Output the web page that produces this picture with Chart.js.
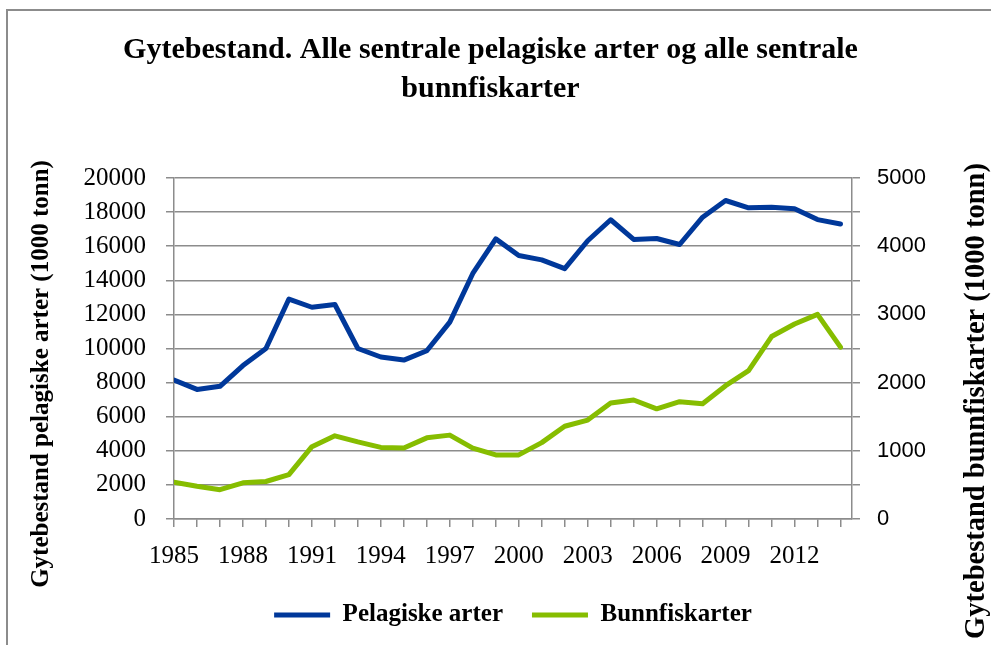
<!DOCTYPE html>
<html>
<head>
<meta charset="utf-8">
<script src="https://cdn.jsdelivr.net/npm/chart.js@4.4.1/dist/chart.umd.min.js"></script>
<style>
  html, body { margin: 0; padding: 0; background: #fff; overflow: hidden; }
  #wrap { position: absolute; left: 0; top: 0; width: 991px; height: 645px; overflow: hidden; }
  #frame { position: absolute; left: 6px; top: 9px; width: 1100px; height: 800px;
           border-left: 2px solid #8c8c8c; border-top: 2px solid #8c8c8c; }
  canvas { position: absolute; left: 0; top: 0; }
</style>
</head>
<body>
<div id="wrap">
  <div id="frame"></div>
  <canvas id="chart" width="991" height="645"></canvas>
</div>
<script>
// data (1000 tonn)
const years = [1985, 1986, 1987, 1988, 1989, 1990, 1991, 1992, 1993, 1994,
               1995, 1996, 1997, 1998, 1999, 2000, 2001, 2002, 2003, 2004,
               2005, 2006, 2007, 2008, 2009, 2010, 2011, 2012, 2013, 2014]
const pelagiske = [8150, 7600, 7780, 9000, 10000, 12900, 12420, 12580, 10000, 9500,
                   9320, 9870, 11550, 14400, 16430, 15450, 15200, 14680, 16320, 17550,
                   16400, 16450, 16100, 17700, 18680, 18250, 18280, 18200, 17560, 17300]
const bunnfisk = [540, 480, 430, 530, 550, 650, 1060, 1220, 1130, 1050,
                  1040, 1190, 1230, 1040, 940, 940, 1120, 1360, 1450, 1700,
                  1745, 1615, 1720, 1690, 1955, 2175, 2675, 2860, 3000, 2520]
const leftTicks = [0, 2000, 4000, 6000, 8000, 10000, 12000, 14000, 16000, 18000, 20000]
const rightTicks = [0, 500, 1000, 1500, 2000, 2500, 3000, 3500, 4000, 4500, 5000]

const chartTitle = ['Gytebestand. Alle sentrale pelagiske arter og alle sentrale', 'bunnfiskarter']
const leftTitle = 'Gytebestand pelagiske arter (1000 tonn)'
const rightTitle = 'Gytebestand bunnfiskarter (1000 tonn)'

const gridColor = '#8c8c8c'
const serif = 'Liberation Serif'

// axis titles drawn on the canvas, placed like the original
const axisTitles = {
    id: 'axisTitles',
    afterDraw(chart) {
        const ctx = chart.ctx
        ctx.save()
        ctx.fillStyle = '#000'
        ctx.textAlign = 'center'
        ctx.textBaseline = 'middle'
        ctx.font = 'bold 25px "' + serif + '"'
        ctx.translate(42, 374)
        ctx.rotate(-Math.PI / 2)
        ctx.fillText(leftTitle, 0, 0)
        ctx.restore()

        ctx.save()
        ctx.fillStyle = '#000'
        ctx.textAlign = 'center'
        ctx.textBaseline = 'middle'
        ctx.font = 'bold 28.5px "' + serif + '"'
        ctx.translate(977, 401)
        ctx.rotate(-Math.PI / 2)
        ctx.fillText(rightTitle, 0, 0)
        ctx.restore()
    }
}

new Chart(document.getElementById('chart'), {
    type: 'line',
    data: {
        datasets: [{
            label: 'Pelagiske arter',
            data: pelagiske.map((v, i) => ({x: years[i], y: v})),
            borderColor: '#00389a',
            backgroundColor: '#00389a',
            borderWidth: 5,
            borderCapStyle: 'round',
            borderJoinStyle: 'round',
            pointRadius: 0,
            tension: 0,
            yAxisID: 'y'
        }, {
            label: 'Bunnfiskarter',
            data: bunnfisk.map((v, i) => ({x: years[i], y: v})),
            borderColor: '#86bd00',
            backgroundColor: '#86bd00',
            borderWidth: 5,
            borderCapStyle: 'round',
            borderJoinStyle: 'round',
            pointRadius: 0,
            tension: 0,
            yAxisID: 'y1'
        }]
    },
    options: {
        responsive: false,
        animation: false,
        devicePixelRatio: 1,
        layout: { padding: { left: 0, right: 10, top: 0, bottom: 7.5 } },
        plugins: {
            title: {
                display: true,
                text: chartTitle,
                color: '#000',
                font: { family: serif, weight: 'bold', size: 30, lineHeight: 1.3 },
                padding: { top: 30.5, bottom: 69.5 }
            },
            legend: {
                position: 'bottom',
                fullSize: false,
                labels: {
                    usePointStyle: true,
                    pointStyle: 'line',
                    pointStyleWidth: 56,
                    padding: 29,
                    color: '#000',
                    font: { family: serif, weight: 'bold', size: 25 }
                }
            },
            tooltip: { enabled: false }
        },
        scales: {
            x: {
                type: 'linear',
                min: 1985,
                max: 2014.5,
                afterBuildTicks: s => { s.ticks = years.map(v => ({value: v})) },
                afterFit: s => { s.height = 54.5 },
                grid: { drawOnChartArea: false, drawTicks: true, tickLength: 8, color: gridColor, lineWidth: 1.5 },
                border: { color: gridColor, width: 1.5 },
                ticks: {
                    autoSkip: false, maxRotation: 0, padding: 14,
                    color: '#000', font: { family: serif, size: 25 },
                    callback: v => (v - 1985) % 3 === 0 ? String(v) : ''
                }
            },
            y: {
                position: 'left',
                min: 0,
                max: 20000,
                afterBuildTicks: s => { s.ticks = leftTicks.map(v => ({value: v})) },
                afterFit: s => { s.width = 174 },
                grid: { color: gridColor, lineWidth: 1.5, tickLength: 8 },
                border: { color: gridColor, width: 1.5 },
                ticks: { padding: 20, color: '#000', font: { family: serif, size: 25 }, callback: v => String(v) }
            },
            y1: {
                position: 'right',
                min: 0,
                max: 5000,
                afterBuildTicks: s => { s.ticks = rightTicks.map(v => ({value: v})) },
                afterFit: s => { s.width = 129 },
                grid: { drawOnChartArea: false, color: gridColor, lineWidth: 1.5, tickLength: 8 },
                border: { color: gridColor, width: 1.5 },
                ticks: {
                    padding: 17, color: '#000', font: { family: 'Liberation Sans', size: 22 },
                    callback: v => v % 1000 === 0 ? String(v) : ''
                }
            }
        }
    },
    plugins: [axisTitles]
})
</script>
</body>
</html>
